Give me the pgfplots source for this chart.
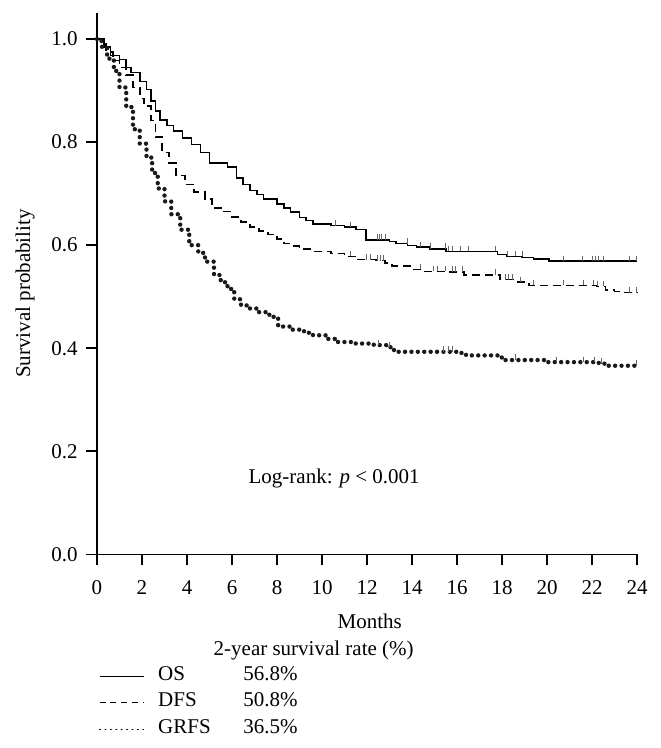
\documentclass[border=0pt]{standalone}
\usepackage{fontspec}
\setmainfont{Liberation Serif}
\usepackage{pgfplots}
\usepackage{pgfplotstable}
\pgfplotsset{compat=1.18}

\pgfplotstableread{
x y
0 1.000
0.3 0.985
0.6 0.968
1.0 0.960
1.3 0.945
1.5 0.935
1.9 0.918
2.2 0.902
2.4 0.880
2.6 0.860
2.8 0.843
3.1 0.832
3.4 0.822
3.8 0.808
4.2 0.795
4.6 0.780
5.0 0.760
5.8 0.752
6.2 0.730
6.5 0.718
6.8 0.706
7.1 0.698
7.4 0.690
8.0 0.680
8.3 0.672
8.6 0.664
9.0 0.654
9.3 0.648
9.6 0.641
10.4 0.638
11.0 0.635
11.5 0.630
11.95 0.610
13.0 0.607
13.3 0.603
13.8 0.599
14.2 0.596
14.8 0.593
15.5 0.588
17.8 0.582
18.2 0.578
18.9 0.576
19.4 0.573
20.1 0.569
24 0.569
}\os

\pgfplotstableread{
x y
0 1.000
0.4 0.975
0.7 0.958
1.0 0.945
1.3 0.930
1.6 0.906
1.9 0.885
2.1 0.870
2.4 0.842
2.6 0.810
2.9 0.780
3.2 0.760
3.5 0.735
3.9 0.718
4.3 0.703
4.8 0.690
5.1 0.672
5.6 0.665
6.0 0.655
6.4 0.645
6.8 0.635
7.2 0.628
7.6 0.621
8.0 0.612
8.3 0.603
8.7 0.598
9.0 0.593
9.6 0.588
10.4 0.584
11.0 0.578
11.6 0.572
12.4 0.570
12.8 0.565
13.1 0.560
13.9 0.553
14.5 0.549
15.5 0.548
16.3 0.542
17.9 0.533
18.6 0.528
19.2 0.522
22.2 0.520
22.6 0.513
23.0 0.510
23.3 0.508
24 0.508
}\dfs

\pgfplotstableread{
x y
0 1.000
0.2 0.985
0.45 0.962
0.75 0.938
1.0 0.906
1.3 0.868
1.6 0.825
1.9 0.797
2.2 0.770
2.45 0.740
2.7 0.710
3.0 0.685
3.3 0.660
3.7 0.630
4.1 0.600
4.5 0.585
4.8 0.568
5.2 0.542
5.5 0.528
5.8 0.515
6.1 0.495
6.4 0.483
6.8 0.477
7.2 0.470
7.6 0.465
7.85 0.458
8.05 0.442
8.6 0.436
9.2 0.430
9.6 0.425
10.2 0.418
10.6 0.412
11.5 0.409
12.3 0.406
12.9 0.402
13.2 0.393
16.2 0.389
16.4 0.386
17.9 0.382
18.1 0.377
20.0 0.373
22.3 0.370
22.7 0.366
24 0.366
}\grfs

\pgfplotstableread{
x y
10.6 0.638
11.25 0.635
12.44 0.610
12.56 0.610
12.66 0.610
12.81 0.610
13.78 0.603
14.37 0.596
14.81 0.593
15.48 0.593
15.63 0.588
15.78 0.588
16.15 0.588
16.52 0.588
17.7 0.588
18.23 0.578
18.6 0.578
18.89 0.578
20.74 0.569
21.56 0.569
22.0 0.569
22.15 0.569
22.3 0.569
22.52 0.569
23.64 0.569
23.98 0.569
}\oscens

\pgfplotstableread{
x y
11.25 0.578
11.99 0.572
12.14 0.572
12.44 0.570
12.59 0.570
12.73 0.570
14.37 0.553
14.96 0.549
15.11 0.549
15.48 0.549
15.78 0.548
15.93 0.548
16.22 0.548
17.7 0.542
18.15 0.533
18.3 0.533
18.45 0.533
18.82 0.528
19.41 0.522
20.74 0.522
21.63 0.522
22.08 0.522
22.23 0.520
22.52 0.520
23.64 0.508
23.98 0.508
}\dfscens

\pgfplotstableread{
x y
12.5 0.406
13.0 0.402
15.4 0.393
15.6 0.393
15.8 0.393
18.6 0.377
20.4 0.373
21.6 0.373
22.1 0.373
22.4 0.370
23.98 0.366
}\grfscens

\begin{document}
\fontsize{10.5}{12.6}\selectfont
\begin{tikzpicture}[font=\fontsize{10.5}{12.6}\selectfont]
\begin{axis}[
  at={(0,0)}, anchor=south west,
  scale only axis, width=270pt, height=270.5pt,
  xmin=0, xmax=24, ymin=0, ymax=1.05,
  axis lines*=left,
  axis line style={line width=0.75pt, black},
  xtick={0,2,4,6,8,10,12,14,16,18,20,22,24},
  ytick={0,0.2,0.4,0.6,0.8,1.0},
  /pgf/number format/assume math mode=true,
  yticklabel style={/pgf/number format/fixed, /pgf/number format/fixed zerofill, /pgf/number format/precision=1, xshift=-0.5pt},
  xticklabel style={yshift=-4pt},
  tick align=outside,
  major tick length=5.5pt,
  every tick/.style={black, line width=0.75pt},
  xlabel={Months},
  xlabel style={at={(axis description cs:0.505,-0.1231)}, anchor=center},
  ylabel={Survival probability},
  ylabel style={at={(axis description cs:-0.1333,0.482)}, anchor=center},
  legend cell align=left,
  legend style={draw=none, fill=none, at={(axis description cs:0,0)}, anchor=north west,
    xshift=1pt, yshift=-54.4pt, inner sep=0pt, outer sep=0pt, row sep=0pt,
    nodes={inner sep=0pt, text height=8.6pt, text depth=4.65pt},
    /tikz/every odd column/.append style={column sep=7pt}},
  clip=false,
]
\addplot[const plot, black, line width=0.8pt,
  legend image code/.code={\draw[black, line width=0.6pt] (0pt,0pt) -- (22pt,0pt);}]
  table[x=x,y=y] {\os};
\addlegendentry{\makebox[42.6pt][l]{OS}56.8\%}
\addplot[const plot, black, line width=0.8pt, dash pattern=on 4pt off 2.5pt,
  legend image code/.code={\draw[black, line width=0.5pt, dash pattern=on 3pt off 2.4pt] (0pt,0pt) -- (22pt,0pt);}]
  table[x=x,y=y] {\dfs};
\addlegendentry{\makebox[42.6pt][l]{DFS}50.8\%}
\addplot[const plot, black!90, line width=2.2pt, dash pattern=on 0pt off 3.2pt, line cap=round,
  legend image code/.code={\draw[black, line width=0.5pt, dash pattern=on 0.5pt off 2.2pt] (0pt,0pt) -- (22pt,0pt);}]
  table[x=x,y=y] {\grfs};
\addlegendentry{\makebox[42.6pt][l]{GRFS}36.5\%}
\addplot[forget plot, only marks, mark=|, mark size=1.4pt, black!60,
  mark options={yshift=1.4pt, line width=0.4pt}] table[x=x,y=y] {\oscens};
\addplot[forget plot, only marks, mark=|, mark size=1.4pt, black!60,
  mark options={yshift=1.4pt, line width=0.4pt}] table[x=x,y=y] {\dfscens};
\addplot[forget plot, only marks, mark=|, mark size=1.4pt, black!60,
  mark options={yshift=1.4pt, line width=0.4pt}] table[x=x,y=y] {\grfscens};
\node at (axis cs:10.54,0.148) {Log-rank: \textit{p} < 0.001};
\node at (axis description cs:0.4013,0) [yshift=-47.9pt] {2-year survival rate (\%)};
\end{axis}
\pgfresetboundingbox
\path[use as bounding box] (-48.5pt,-96.85pt) rectangle (281.5pt,277.15pt);
\end{tikzpicture}
\end{document}
